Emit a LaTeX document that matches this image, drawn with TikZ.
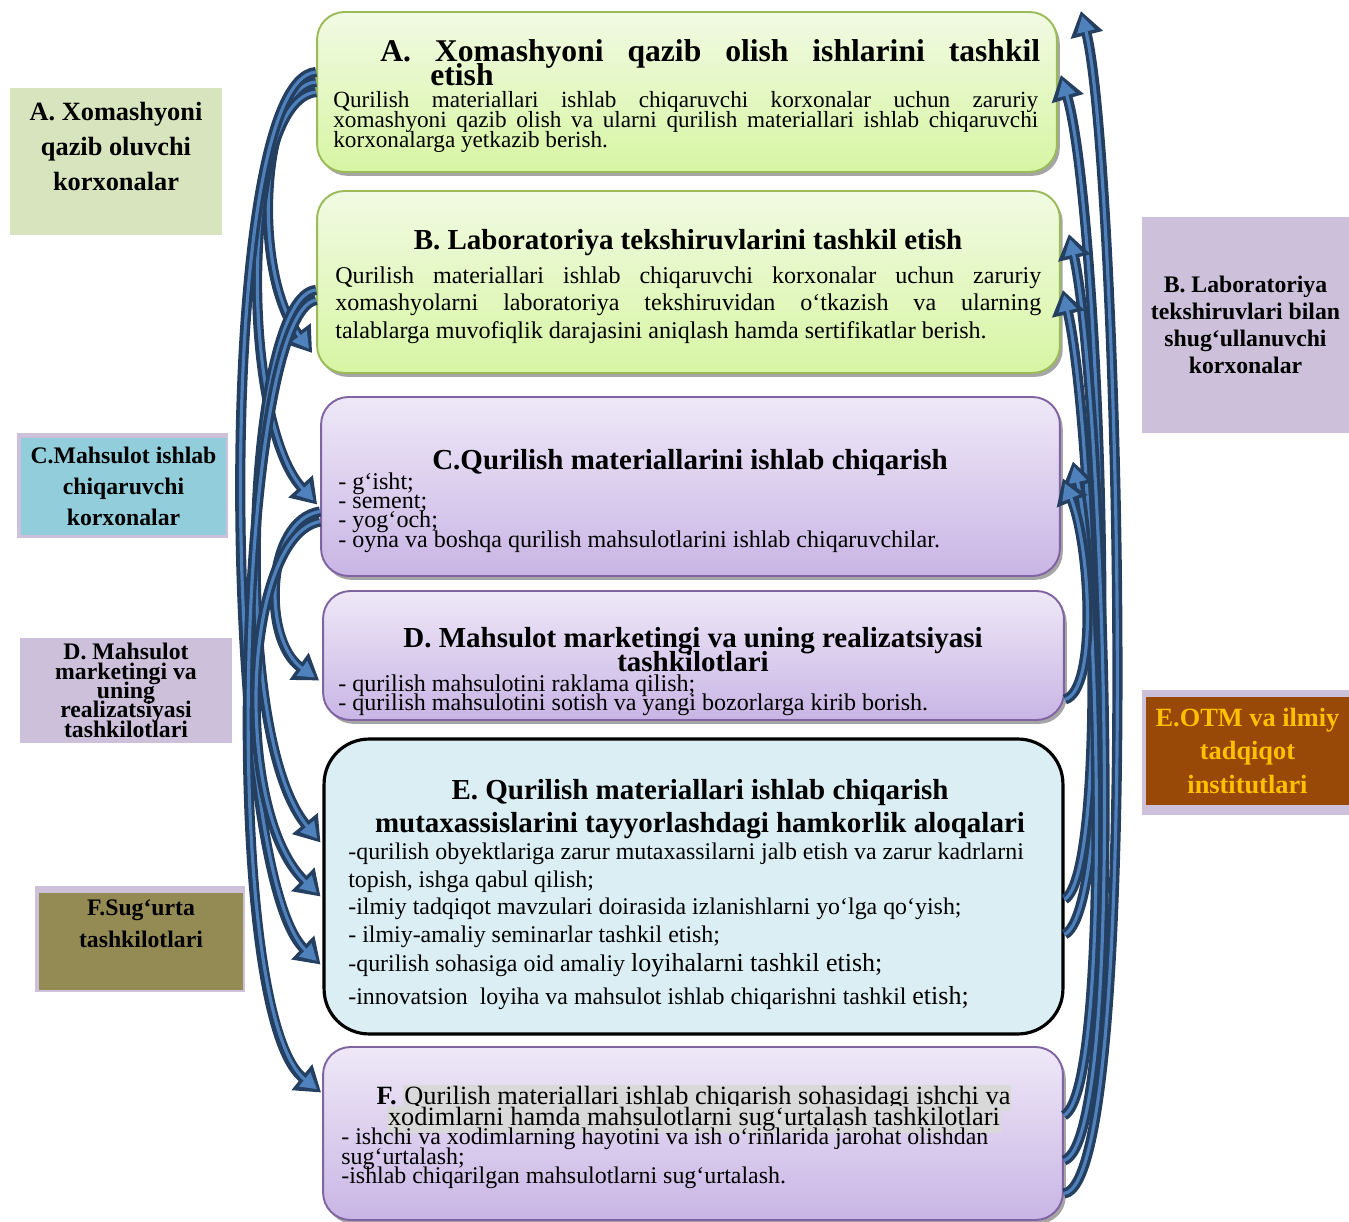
\documentclass[tikz,border=0pt]{standalone}
\usepackage{fontspec}
\setmainfont{Liberation Serif}
\usetikzlibrary{arrows.meta,calc,shadows}
\definecolor{grtop}{HTML}{F1FAE3}
\definecolor{grbot}{HTML}{D7F5A3}
\definecolor{grline}{HTML}{9BBB59}
\definecolor{lltop}{HTML}{EEE8F7}
\definecolor{llbot}{HTML}{C9B5E5}
\definecolor{llline}{HTML}{8064A2}
\definecolor{ebox}{HTML}{DAEEF3}
\definecolor{tagA}{HTML}{D7E4BD}
\definecolor{tagL}{HTML}{CCC0DA}
\definecolor{tagC}{HTML}{92CDDC}
\definecolor{tagF}{HTML}{948A54}
\definecolor{tagE}{HTML}{984807}
\definecolor{gold}{HTML}{FFC000}
\definecolor{navy}{HTML}{243F60}
\definecolor{flowblue}{HTML}{4F81BD}
\definecolor{hlgray}{HTML}{D9D9D9}
\newcommand{\jline}[2]{\makebox[#1][s]{#2}}
\newcommand{\hlt}[1]{{\setlength{\fboxsep}{0.6pt}\colorbox{hlgray}{#1}}}
\tikzset{
  box/.style={rectangle, rounded corners=0.55cm, line width=1.1pt,
    drop shadow={shadow xshift=1.6pt, shadow yshift=-2.2pt, fill=black!70}},
  greenbox/.style={box, draw=grline, top color=grtop, bottom color=grbot},
  lilacbox/.style={box, draw=llline, top color=lltop, bottom color=llbot},
  tag/.style={rectangle, inner sep=0pt, execute at begin node={\lineskiplimit=-40pt}},
  txt/.style={inner sep=0pt, execute at begin node={\lineskiplimit=-40pt}},
  flow/.style={draw=flowblue, line width=1.8pt, shorten >=3pt, -{Triangle[length=9pt,width=10pt]},
    preaction={draw=navy, line width=5.8pt, shorten >=0pt, -{Triangle[length=14pt,width=18pt]}}}
}
\begin{document}
\begin{tikzpicture}[x=0.02cm,y=-0.02cm]
  \useasboundingbox (0,0) rectangle (1349,1222);

  \node[greenbox, minimum width=14.8cm, minimum height=3.2cm] (bA) at (687,92) {};
  \node[greenbox, minimum width=14.86cm, minimum height=3.64cm] (bB) at (688.5,282) {};
  \node[lilacbox, minimum width=14.78cm, minimum height=3.58cm] (bC) at (690.5,486.5) {};
  \node[lilacbox, minimum width=14.82cm, minimum height=2.58cm] (bD) at (693.5,655.5) {};
  \node[rectangle, rounded corners=0.9cm, draw=black, line width=1.8pt, fill=ebox,
    minimum width=14.78cm, minimum height=5.9cm] (bE) at (693.5,886.5) {};
  \node[lilacbox, minimum width=14.8cm, minimum height=3.46cm] (bF) at (693,1133.5) {};

  \node[txt, anchor=north west, align=left, font=\fontsize{18}{13.7}\selectfont\bfseries] (tA) at (380,39)
    {\jline{13.2cm}{A. Xomashyoni qazib olish ishlarini tashkil}\\\hspace*{1cm}etish};
  \node[txt, anchor=north west, align=left, font=\fontsize{13.2}{11.4}\selectfont] (dA) at (333,91)
    {\jline{14.1cm}{Qurilish materiallari ishlab chiqaruvchi korxonalar uchun zaruriy}\\
     \jline{14.1cm}{xomashyoni qazib olish va ularni qurilish materiallari ishlab chiqaruvchi}\\
     korxonalarga yetkazib berish.};

  \node[txt, anchor=base, font=\fontsize{16.5}{18}\selectfont\bfseries] (tB) at (688,250)
    {B. Laboratoriya tekshiruvlarini tashkil etish};
  \node[txt, anchor=north west, align=left, font=\fontsize{13.7}{15.9}\selectfont] (dB) at (335,266)
    {\jline{14.12cm}{Qurilish materiallari ishlab chiqaruvchi korxonalar uchun zaruriy}\\
     \jline{14.12cm}{xomashyolarni laboratoriya tekshiruvidan o‘tkazish va ularning}\\
     talablarga muvofiqlik darajasini aniqlash hamda sertifikatlar berish.};

  \node[txt, anchor=base, font=\fontsize{16.5}{18}\selectfont\bfseries] (tC) at (690,470)
    {C.Qurilish materiallarini ishlab chiqarish};
  \node[txt, anchor=north west, align=left, font=\fontsize{13.7}{11}\selectfont] (dC) at (338,472)
    {- g‘isht;\\- sement;\\- yog‘och;\\- oyna va boshqa qurilish mahsulotlarini ishlab chiqaruvchilar.};

  \node[txt, anchor=north, align=center, font=\fontsize{16.5}{13.7}\selectfont\bfseries] (tD) at (693,627)
    {D. Mahsulot marketingi va uning realizatsiyasi\\tashkilotlari};
  \node[txt, anchor=north west, align=left, font=\fontsize{13.7}{10.8}\selectfont] (dD) at (338,674)
    {- qurilish mahsulotini raklama qilish;\\- qurilish mahsulotini sotish va yangi bozorlarga kirib borish.};

  \node[txt, anchor=north, align=center, font=\fontsize{16.5}{18.8}\selectfont\bfseries] (tE) at (700,779)
    {E. Qurilish materiallari ishlab chiqarish\\mutaxassislarini tayyorlashdagi hamkorlik aloqalari};
  \node[txt, anchor=north west, align=left, font=\fontsize{13.6}{15.6}\selectfont] (dE) at (348,843)
    {-qurilish obyektlariga zarur mutaxassilarni jalb etish va zarur kadrlarni\\
     topish, ishga qabul qilish;\\
     -ilmiy tadqiqot mavzulari doirasida izlanishlarni yo‘lga qo‘yish;\\
     - ilmiy-amaliy seminarlar tashkil etish;\\[1pt]
     -qurilish sohasiga oid amaliy {\fontsize{14.8}{15.6}\selectfont loyihalarni tashkil etish;}\\[3pt]
     -innovatsion\ \ loyiha va mahsulot ishlab chiqarishni tashkil {\fontsize{14.8}{15.6}\selectfont etish;}};

  \node[txt, anchor=north, align=center, font=\fontsize{15}{12}\selectfont] (tF) at (694,1085)
    {\textbf{F.} \hlt{Qurilish materiallari ishlab chiqarish sohasidagi ishchi va}\\
     \hlt{xodimlarni hamda mahsulotlarni sug‘urtalash tashkilotlari}};
  \node[txt, anchor=north west, align=left, font=\fontsize{13.6}{11}\selectfont] (dF) at (341,1128)
    {- ishchi va xodimlarning hayotini va ish o‘rinlarida jarohat olishdan\\sug‘urtalash;\\
     -ishlab chiqarilgan mahsulotlarni sug‘urtalash.};

  \node[tag, fill=tagA, minimum width=4.24cm, minimum height=2.94cm] (lA) at (116,161.5) {};
  \node[txt, anchor=north, align=center, font=\fontsize{15}{19.9}\selectfont\bfseries] (lAt) at (116,102)
    {A. Xomashyoni\\qazib oluvchi\\korxonalar};
  \node[tag, fill=tagL, minimum width=4.22cm, minimum height=2.1cm] (lCo) at (122.5,485.5) {};
  \node[tag, fill=tagC, minimum width=4.1cm, minimum height=1.94cm, align=center,
    font=\fontsize{13.5}{17.6}\selectfont\bfseries] (lC) at (123.5,486.5)
    {C.Mahsulot ishlab\\chiqaruvchi\\korxonalar};
  \node[tag, fill=tagL, minimum width=4.24cm, minimum height=2.1cm, align=center,
    font=\fontsize{13.5}{11}\selectfont\bfseries] (lD) at (126,690.5)
    {D. Mahsulot\\marketingi va\\uning\\realizatsiyasi\\tashkilotlari};
  \node[tag, fill=tagL, minimum width=4.2cm, minimum height=2.12cm] (lFo) at (140,939) {};
  \node[tag, fill=tagF, minimum width=4.08cm, minimum height=1.94cm] (lF) at (141,941.5) {};
  \node[txt, anchor=north, align=center, font=\fontsize{13.5}{18.2}\selectfont\bfseries] (lFt) at (141,899)
    {F.Sug‘urta\\tashkilotlari};
  \node[tag, fill=tagL, minimum width=4.14cm, minimum height=4.32cm, align=center,
    font=\fontsize{13.5}{15.4}\selectfont\bfseries] (lB) at (1245.5,325)
    {B. Laboratoriya\\tekshiruvlari bilan\\shug‘ullanuvchi\\korxonalar};
  \node[tag, fill=tagL, minimum width=4.14cm, minimum height=2.5cm] (lEo) at (1245.5,752.5) {};
  \node[tag, fill=tagE, text=gold, minimum width=4.06cm, minimum height=2.16cm, align=center,
    font=\fontsize{15}{19.3}\selectfont\bfseries] (lE) at (1247.5,751)
    {E.OTM va ilmiy\\tadqiqot\\institutlari};

  \draw[flow] ($(bA.west)+(0,-10)$) .. controls (262,85) and (250,270) .. ($(bB.south west)+(-4,-21)$);
  \draw[flow] (bA.west) .. controls (240,100) and (240,420) .. ($(bC.west)+(-3,18)$);
  \draw[flow] ($(bA.west)+(0,-20)$) .. controls (212,80) and (222,870) .. ($(bE.west)+(-2,78)$);
  \draw[flow] ($(bB.west)+(0,8)$) .. controls (248,295) and (228,730) .. ($(bE.west)+(-2,-44)$);
  \draw[flow] ($(bB.west)+(0,18)$) .. controls (238,312) and (218,1010) .. ($(bF.west)+(-1,-41)$);
  \draw[flow] ($(bC.west)+(0,25)$) .. controls (265,520) and (262,640) .. ($(bD.west)+(-3,25)$);
  \draw[flow] ($(bC.west)+(0,35)$) .. controls (243,535) and (232,810) .. ($(bE.west)+(-2,10)$);

  \draw[flow] ($(bF.east)+(0,60)$) .. controls (1145,1185) and (1118,160) .. ($(bA.north east)+(23,0)$);
  \draw[flow] ($(bE.east)+(0,48)$) .. controls (1125,905) and (1100,210) .. ($(bA.east)+(3,-17)$);
  \draw[flow] ($(bF.east)+(0,27)$) .. controls (1130,1140) and (1102,380) .. ($(bB.north east)+(8,44)$);
  \draw[flow] ($(bE.east)+(0,13)$) .. controls (1110,870) and (1092,420) .. ($(bB.east)+(2,8)$);
  \draw[flow] ($(bF.east)+(0,-18)$) .. controls (1112,1090) and (1098,570) .. ($(bC.east)+(12,-25)$);
  \draw[flow] ($(bD.east)+(0,44)$) .. controls (1098,690) and (1090,545) .. ($(bC.east)+(2,-8)$);
\end{tikzpicture}
\end{document}
